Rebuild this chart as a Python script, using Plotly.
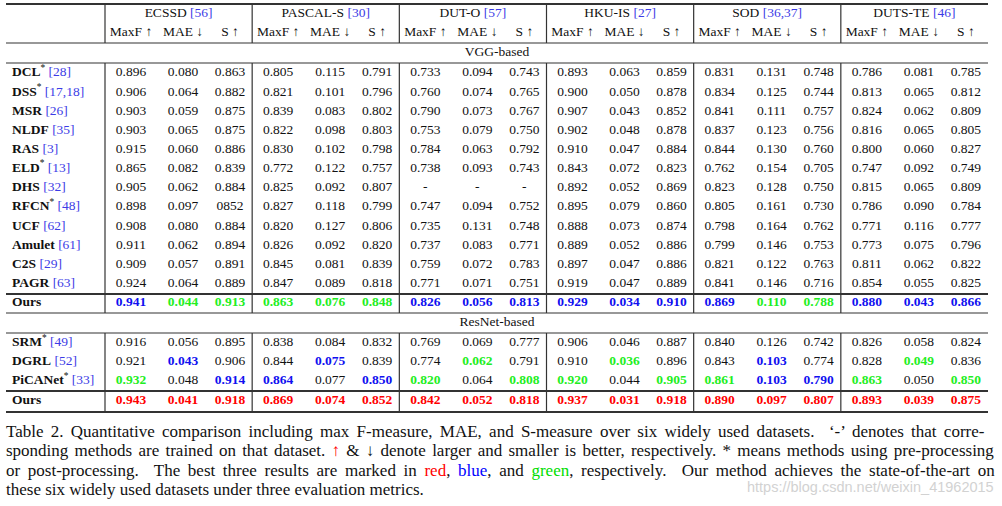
import plotly.graph_objects as go

# ---------------- data ----------------
datasets = ["ECSSD", "PASCAL-S", "DUT-O", "HKU-IS", "SOD", "DUTS-TE"]
dataset_refs = ["56", "30", "57", "27", "36,37", "46"]
metrics = ["MaxF ↑", "MAE ↓", "S ↑"]

vgg_methods = ["DCL", "DSS", "MSR", "NLDF", "RAS", "ELD", "DHS", "RFCN", "UCF", "Amulet", "C2S", "PAGR", "Ours"]
vgg_star = [True, True, False, False, False, True, False, True, False, False, False, False, False]
vgg_refs = ["28", "17,18", "26", "35", "3", "13", "32", "48", "62", "61", "29", "63", ""]

DCL = ["0.896", "0.080", "0.863", "0.805", "0.115", "0.791", "0.733", "0.094", "0.743", "0.893", "0.063", "0.859", "0.831", "0.131", "0.748", "0.786", "0.081", "0.785"]
DSS = ["0.906", "0.064", "0.882", "0.821", "0.101", "0.796", "0.760", "0.074", "0.765", "0.900", "0.050", "0.878", "0.834", "0.125", "0.744", "0.813", "0.065", "0.812"]
MSR = ["0.903", "0.059", "0.875", "0.839", "0.083", "0.802", "0.790", "0.073", "0.767", "0.907", "0.043", "0.852", "0.841", "0.111", "0.757", "0.824", "0.062", "0.809"]
NLDF = ["0.903", "0.065", "0.875", "0.822", "0.098", "0.803", "0.753", "0.079", "0.750", "0.902", "0.048", "0.878", "0.837", "0.123", "0.756", "0.816", "0.065", "0.805"]
RAS = ["0.915", "0.060", "0.886", "0.830", "0.102", "0.798", "0.784", "0.063", "0.792", "0.910", "0.047", "0.884", "0.844", "0.130", "0.760", "0.800", "0.060", "0.827"]
ELD = ["0.865", "0.082", "0.839", "0.772", "0.122", "0.757", "0.738", "0.093", "0.743", "0.843", "0.072", "0.823", "0.762", "0.154", "0.705", "0.747", "0.092", "0.749"]
DHS = ["0.905", "0.062", "0.884", "0.825", "0.092", "0.807", "-", "-", "-", "0.892", "0.052", "0.869", "0.823", "0.128", "0.750", "0.815", "0.065", "0.809"]
RFCN = ["0.898", "0.097", "0852", "0.827", "0.118", "0.799", "0.747", "0.094", "0.752", "0.895", "0.079", "0.860", "0.805", "0.161", "0.730", "0.786", "0.090", "0.784"]
UCF = ["0.908", "0.080", "0.884", "0.820", "0.127", "0.806", "0.735", "0.131", "0.748", "0.888", "0.073", "0.874", "0.798", "0.164", "0.762", "0.771", "0.116", "0.777"]
Amulet = ["0.911", "0.062", "0.894", "0.826", "0.092", "0.820", "0.737", "0.083", "0.771", "0.889", "0.052", "0.886", "0.799", "0.146", "0.753", "0.773", "0.075", "0.796"]
C2S = ["0.909", "0.057", "0.891", "0.845", "0.081", "0.839", "0.759", "0.072", "0.783", "0.897", "0.047", "0.886", "0.821", "0.122", "0.763", "0.811", "0.062", "0.822"]
PAGR = ["0.924", "0.064", "0.889", "0.847", "0.089", "0.818", "0.771", "0.071", "0.751", "0.919", "0.047", "0.889", "0.841", "0.146", "0.716", "0.854", "0.055", "0.825"]
Ours_vgg = ["0.941", "0.044", "0.913", "0.863", "0.076", "0.848", "0.826", "0.056", "0.813", "0.929", "0.034", "0.910", "0.869", "0.110", "0.788", "0.880", "0.043", "0.866"]

res_methods = ["SRM", "DGRL", "PiCANet", "Ours"]
res_star = [True, False, True, False]
res_refs = ["49", "52", "33", ""]

SRM = ["0.916", "0.056", "0.895", "0.838", "0.084", "0.832", "0.769", "0.069", "0.777", "0.906", "0.046", "0.887", "0.840", "0.126", "0.742", "0.826", "0.058", "0.824"]
DGRL = ["0.921", "0.043", "0.906", "0.844", "0.075", "0.839", "0.774", "0.062", "0.791", "0.910", "0.036", "0.896", "0.843", "0.103", "0.774", "0.828", "0.049", "0.836"]
PiCANet = ["0.932", "0.048", "0.914", "0.864", "0.077", "0.850", "0.820", "0.064", "0.808", "0.920", "0.044", "0.905", "0.861", "0.103", "0.790", "0.863", "0.050", "0.850"]
Ours_res = ["0.943", "0.041", "0.918", "0.869", "0.074", "0.852", "0.842", "0.052", "0.818", "0.937", "0.031", "0.918", "0.890", "0.097", "0.807", "0.893", "0.039", "0.875"]

# rank marks: r = best (red), b = 2nd (blue), g = 3rd (green), . = none
rank_Ours_vgg = "bggggg" + "bbbbbb" + "bggbbb"
rank_DGRL = ".b." + ".b." + ".g." + ".g." + ".b." + ".g."
rank_PiCANet = "g.b" + "b.b" + "g.g" + "g.g" + "gbb" + "g.g"
rank_Ours_res = "r" * 18

vgg_rows = [DCL, DSS, MSR, NLDF, RAS, ELD, DHS, RFCN, UCF, Amulet, C2S, PAGR, Ours_vgg]
vgg_ranks = ["." * 18] * 12 + [rank_Ours_vgg]
vgg_bold = [False] * 12 + [True]
res_rows = [SRM, DGRL, PiCANet, Ours_res]
res_ranks = ["." * 18, rank_DGRL, rank_PiCANet, rank_Ours_res]
res_bold = [False, False, False, True]

# ---------------- styling / layout ----------------
W, H = 1002, 506
SERIF = "Liberation Serif, Times New Roman, serif"
REFC = "#3c3ce6"
RANK_COLOR = {"r": "#ff0000", "b": "#1010f0", "g": "#22ee22", ".": "#111111"}
LINEC = "#333333"
FS = 13.5

TABLE_L, TABLE_R = 6, 988
SEP0 = 105
GROUP_W = (TABLE_R - SEP0) / 6
COL_OFF = [26, 78, 125]
col_x = [SEP0 + GROUP_W * g + o for g in range(6) for o in COL_OFF]

Y_HEAD1, Y_HEAD2 = 14, 33
Y_VGG_LABEL = 53
Y_VGG0, ROW_H = 73, 19.15
vgg_y = [Y_VGG0 + ROW_H * i for i in range(12)] + [303]
Y_RES_LABEL = 323
res_y = [343, 362, 381, 401]

fig = go.Figure()


def method_label(name, star, ref):
    s = f"<b>{name}</b>"
    if star:
        s += "<sup>*</sup>"
    if ref:
        s += f" <span style='color:{REFC}'>[{ref}]</span>"
    return s


names = [method_label(n, s, r) for n, s, r in zip(vgg_methods, vgg_star, vgg_refs)] + \
        [method_label(n, s, r) for n, s, r in zip(res_methods, res_star, res_refs)]
fig.add_trace(go.Scatter(
    x=[12] * len(names), y=vgg_y + res_y, mode="text", text=names,
    textposition="middle right", textfont=dict(family=SERIF, size=FS, color="#111111"),
    hoverinfo="skip", showlegend=False))

all_rows = vgg_rows + res_rows
all_ranks = vgg_ranks + res_ranks
all_bold = vgg_bold + res_bold
all_y = vgg_y + res_y
for c in range(18):
    texts, colors = [], []
    for row, rk, bd in zip(all_rows, all_ranks, all_bold):
        v = row[c]
        code = rk[c]
        if bd or code != ".":
            v = f"<b>{v}</b>"
        texts.append(v)
        colors.append(RANK_COLOR[code])
    fig.add_trace(go.Scatter(
        x=[col_x[c]] * len(texts), y=all_y, mode="text", text=texts,
        textposition="middle center",
        textfont=dict(family=SERIF, size=FS, color=colors),
        hoverinfo="skip", showlegend=False))

head_x = [SEP0 + GROUP_W * (g + 0.5) for g in range(6)]
head_txt = [f"{d} <span style='color:{REFC}'>[{r}]</span>" for d, r in zip(datasets, dataset_refs)]
fig.add_trace(go.Scatter(
    x=head_x, y=[Y_HEAD1] * 6, mode="text", text=head_txt, textposition="middle center",
    textfont=dict(family=SERIF, size=FS, color="#111111"), hoverinfo="skip", showlegend=False))
metric_txt = [m for _ in datasets for m in metrics]
fig.add_trace(go.Scatter(
    x=col_x, y=[Y_HEAD2] * 18, mode="text", text=metric_txt, textposition="middle center",
    textfont=dict(family=SERIF, size=FS, color="#111111"), hoverinfo="skip", showlegend=False))

fig.add_trace(go.Scatter(
    x=[(TABLE_L + TABLE_R) / 2] * 2, y=[Y_VGG_LABEL, Y_RES_LABEL], mode="text",
    text=["VGG-based", "ResNet-based"], textposition="middle center",
    textfont=dict(family=SERIF, size=FS, color="#111111"), hoverinfo="skip", showlegend=False))

shapes = []


def hline(y, w):
    shapes.append(dict(type="line", xref="x", yref="y", x0=TABLE_L, x1=TABLE_R, y0=y, y1=y,
                       line=dict(color=LINEC, width=w)))


for y, w in [(4, 2.2), (43, 1.2), (63, 1.2), (294, 2), (313, 1.2), (333, 1.2), (391, 2), (412, 2.2)]:
    hline(y, w)

seps = [SEP0 + GROUP_W * g for g in range(6)]
for xs in seps:
    for y0, y1 in [(4, 43), (63, 313), (333, 412)]:
        shapes.append(dict(type="line", xref="x", yref="y", x0=xs, x1=xs, y0=y0, y1=y1,
                           line=dict(color=LINEC, width=1.2)))

# caption (justified through word spacing)
cap_lines = [
    ("Table 2. Quantitative comparison including max F-measure, MAE, and S-measure over six widely used datasets.  ‘-’ denotes that corre-", 3.0),
    ("sponding methods are trained on that dataset. <span style='color:#ff0000'>↑</span> &amp; ↓ denote larger and smaller is better, respectively. * means methods using pre-processing", 2.0),
    ("or post-processing.  The best three results are marked in <span style='color:#ff0000'>red</span>, <span style='color:#0000ff'>blue</span>, and <span style='color:#00dd00'>green</span>, respectively.  Our method achieves the state-of-the-art on", 3.4),
    ("these six widely used datasets under three evaluation metrics.", 0),
]
annotations = []
for i, (t, ws) in enumerate(cap_lines):
    txt = f"<span style='word-spacing:{ws}px'>{t}</span>" if ws else t
    annotations.append(dict(x=4, y=431 + 19.5 * i, xref="x", yref="y", text=txt, showarrow=False,
                            xanchor="left", yanchor="middle",
                            font=dict(family=SERIF, size=17, color="#111111")))
annotations.append(dict(x=996, y=487, xref="x", yref="y", text="https://blog.csdn.net/weixin_41962015",
                        showarrow=False, xanchor="right", yanchor="middle",
                        font=dict(family="Liberation Sans, Arial, sans-serif", size=14.5, color="#d2d2d2")))

fig.update_layout(
    width=W, height=H, margin=dict(l=0, r=0, t=0, b=0),
    paper_bgcolor="white", plot_bgcolor="white",
    xaxis=dict(range=[0, W], visible=False, fixedrange=True),
    yaxis=dict(range=[H, 0], visible=False, fixedrange=True),
    shapes=shapes, annotations=annotations, showlegend=False,
)

fig.write_html("out.html", config={"displayModeBar": False},
               post_script="document.body.style.margin='0';document.body.style.overflow='hidden';")
